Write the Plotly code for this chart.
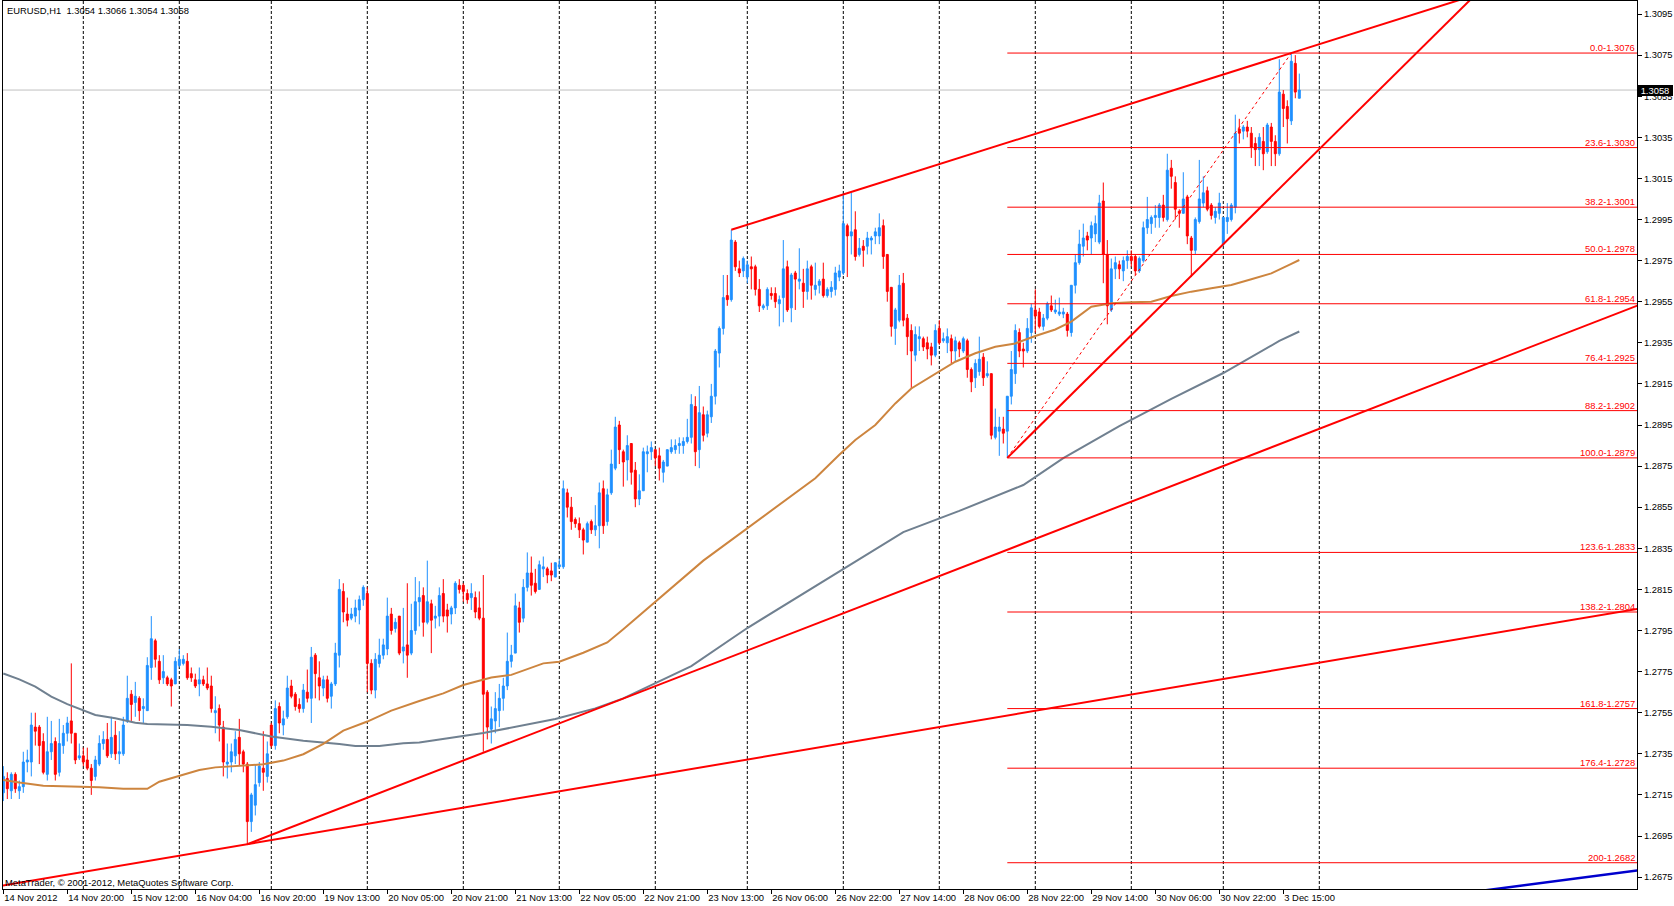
import plotly.graph_objects as go

# ---------------- data (prices in 1/10000 units) ----------------
bars = list(range(325))

opens = [
12716,12723,12717,12725,12717,12719,12731,12731,12748,12748,
12741,12725,12736,12741,12726,12739,12745,12751,12745,12733,
12734,12732,12728,12724,12730,12740,12742,12735,12744,12735,
12735,12751,12764,12760,12762,12757,12756,12777,12790,12780,
12772,12772,12771,12769,12778,12779,12780,12774,12771,12769,
12771,12769,12768,12755,12757,12748,12730,12731,12734,12743,
12736,12730,12702,12710,12721,12728,12724,12749,12739,12758,
12749,12753,12768,12764,12759,12757,12765,12762,12783,12772,
12767,12771,12763,12769,12783,12814,12803,12801,12802,12805,
12810,12813,12779,12766,12779,12783,12786,12803,12796,12802,
12785,12788,12784,12795,12809,12812,12799,12808,12801,12802,
12813,12805,12803,12806,12817,12817,12813,12811,12811,12806,
12801,12765,12747,12751,12756,12762,12768,12780,12784,12806,
12801,12816,12823,12818,12815,12825,12825,12824,12821,12826,
12826,12862,12855,12849,12847,12844,12838,12848,12844,12846,
12864,12848,12862,12874,12895,12882,12878,12886,12873,12859,
12863,12881,12882,12883,12880,12872,12875,12882,12883,12885,
12885,12887,12889,12904,12883,12900,12891,12899,12909,12930,
12942,12958,12956,12984,12971,12970,12967,12972,12972,12961,
12952,12953,12959,12959,12954,12957,12972,12952,12969,12965,
12964,12960,12972,12961,12963,12966,12958,12960,12961,12967,
12969,12992,12987,12990,12978,12982,12982,12985,12987,12987,
12992,12978,12962,12942,12946,12964,12947,12941,12929,12937,
12937,12935,12933,12929,12942,12936,12935,12937,12931,12935,
12931,12936,12922,12918,12921,12928,12919,12920,12889,12892,
12893,12892,12909,12920,12940,12932,12931,12940,12951,12950,
12943,12947,12953,12950,12949,12949,12949,12940,12963,12974,
12982,12987,12986,12988,12984,13004,12978,12951,12971,12973,
12970,12975,12977,12977,12970,12975,12991,12993,12996,12996,
13002,12995,13020,13013,12999,12998,13006,12986,12980,12994,
13003,13009,13002,12996,12998,12983,12994,12995,13001,13039,
13038,13040,13037,13032,13029,13033,13028,13040,13033,13027,
13056,13050,13043,13071,13054]

highs = [
12729,12726,12726,12726,12722,12736,12737,12755,12755,12749,
12745,12753,12751,12743,12752,12749,12753,12779,12745,12740,
12738,12738,12730,12734,12744,12746,12750,12753,12751,12746,
12753,12773,12766,12770,12763,12762,12782,12802,12791,12783,
12783,12773,12772,12782,12786,12783,12784,12777,12774,12777,
12773,12777,12773,12763,12759,12751,12740,12740,12746,12752,
12737,12731,12716,12730,12731,12746,12741,12750,12761,12760,
12756,12773,12771,12765,12762,12769,12776,12787,12784,12780,
12773,12773,12770,12789,12820,12818,12811,12806,12810,12812,
12817,12816,12781,12784,12791,12791,12811,12806,12801,12802,
12806,12818,12808,12821,12819,12816,12829,12810,12807,12816,
12820,12808,12807,12819,12820,12818,12815,12818,12814,12814,
12822,12766,12758,12765,12769,12772,12794,12788,12813,12809,
12820,12833,12831,12825,12829,12831,12826,12828,12828,12830,
12868,12864,12860,12850,12850,12845,12848,12849,12856,12867,
12868,12864,12883,12899,12897,12883,12890,12886,12877,12871,
12884,12885,12887,12883,12884,12878,12883,12888,12888,12889,
12889,12898,12910,12909,12914,12904,12902,12915,12932,12943,
12968,12968,12990,12985,12975,12977,12975,12977,12973,12966,
12954,12962,12962,12962,12958,12985,12975,12969,12970,12981,
12971,12975,12973,12974,12966,12974,12962,12965,12972,12973,
13007,12993,13008,12999,12986,12985,12989,12987,12991,12998,
12995,12978,12962,12952,12968,12969,12949,12944,12943,12943,
12938,12938,12935,12944,12946,12940,12942,12939,12938,12936,
12938,12937,12923,12927,12938,12930,12926,12920,12903,12899,
12899,12909,12931,12944,12942,12935,12947,12954,12961,12952,
12949,12955,12958,12956,12957,12952,12950,12963,12978,12990,
12993,12989,12994,12997,13007,13013,12985,12976,12977,12975,
12977,12980,12980,12978,12977,12994,13006,12997,13002,13003,
13007,13027,13024,13016,13000,13018,13007,12987,12996,13024,
13016,13011,13003,13001,13008,12996,13003,13003,13046,13044,
13041,13043,13040,13035,13037,13040,13042,13042,13036,13073,
13058,13053,13076,13075,13066]

lows = [
12712,12713,12713,12716,12713,12716,12726,12724,12739,12730,
12725,12722,12732,12722,12724,12735,12741,12740,12730,12732,
12729,12727,12715,12722,12729,12737,12733,12733,12732,12730,
12734,12750,12751,12753,12751,12750,12756,12771,12777,12769,
12769,12768,12758,12769,12777,12778,12771,12770,12767,12763,
12768,12766,12755,12745,12741,12724,12723,12726,12730,12729,
12726,12691,12697,12705,12719,12717,12721,12738,12737,12745,
12744,12752,12762,12756,12755,12755,12760,12750,12762,12761,
12763,12760,12757,12768,12777,12799,12797,12800,12799,12798,
12807,12765,12764,12762,12777,12781,12783,12793,12794,12783,
12779,12772,12783,12793,12797,12792,12798,12784,12796,12797,
12799,12794,12798,12803,12813,12809,12808,12805,12801,12800,
12736,12742,12740,12745,12748,12756,12766,12777,12784,12794,
12799,12814,12812,12813,12815,12821,12818,12819,12821,12825,
12825,12850,12844,12845,12840,12832,12838,12842,12841,12835,
12842,12846,12861,12873,12876,12865,12868,12866,12855,12856,
12863,12872,12878,12875,12868,12867,12875,12881,12881,12881,
12881,12886,12886,12875,12874,12887,12889,12896,12905,12923,
12939,12953,12955,12970,12967,12967,12964,12961,12958,12950,
12951,12951,12956,12952,12943,12945,12950,12945,12951,12961,
12952,12956,12956,12958,12959,12957,12957,12957,12958,12965,
12968,12967,12978,12975,12977,12972,12978,12978,12983,12983,
12971,12955,12938,12934,12945,12943,12929,12913,12926,12931,
12931,12927,12924,12928,12934,12935,12930,12925,12926,12928,
12930,12918,12911,12913,12919,12914,12918,12888,12888,12880,
12886,12879,12905,12915,12928,12923,12930,12935,12940,12942,
12941,12946,12950,12949,12948,12947,12938,12938,12959,12973,
12977,12980,12978,12984,12983,12964,12944,12950,12966,12966,
12965,12971,12972,12968,12969,12974,12988,12988,12991,12991,
12994,12994,13010,12995,12991,12998,12983,12967,12978,12993,
13001,12999,12995,12993,12995,12982,12988,12994,12998,13032,
13034,13035,13025,13021,13021,13019,13027,13021,13021,13026,
13040,13032,13041,13054,13054]

closes = [
12724,12718,12725,12718,12719,12731,12732,12749,12746,12739,
12726,12736,12740,12725,12740,12745,12750,12745,12732,12734,
12731,12728,12722,12732,12740,12742,12734,12743,12735,12736,
12749,12762,12759,12763,12756,12758,12778,12791,12781,12771,
12775,12769,12768,12780,12781,12781,12772,12772,12768,12771,
12769,12767,12757,12756,12749,12731,12731,12736,12742,12735,
12730,12702,12715,12720,12729,12726,12735,12739,12757,12750,
12752,12767,12763,12758,12757,12766,12762,12782,12774,12768,
12771,12762,12769,12784,12815,12804,12800,12803,12806,12810,
12816,12779,12766,12781,12783,12788,12802,12795,12799,12784,
12787,12783,12795,12809,12811,12799,12809,12800,12802,12812,
12802,12802,12806,12818,12815,12814,12810,12813,12804,12801,
12764,12748,12752,12757,12762,12768,12780,12783,12807,12799,
12816,12823,12817,12814,12827,12826,12822,12822,12828,12827,
12864,12855,12848,12847,12844,12839,12847,12844,12846,12862,
12846,12861,12876,12894,12883,12877,12885,12872,12859,12863,
12882,12882,12884,12879,12874,12877,12883,12884,12885,12886,
12887,12889,12905,12882,12901,12890,12900,12909,12931,12942,
12957,12956,12985,12972,12969,12976,12973,12971,12961,12953,
12953,12961,12958,12955,12956,12971,12951,12968,12966,12966,
12960,12971,12963,12963,12965,12958,12961,12962,12969,12970,
12993,12987,12989,12977,12981,12980,12986,12986,12989,12991,
12977,12960,12943,12951,12963,12946,12938,12931,12939,12938,
12933,12932,12929,12941,12935,12937,12938,12931,12936,12932,
12937,12922,12916,12925,12927,12918,12920,12890,12894,12894,
12891,12909,12922,12941,12931,12931,12942,12952,12948,12943,
12947,12954,12951,12951,12950,12950,12941,12963,12974,12983,
12986,12985,12992,12993,13003,12978,12953,12971,12974,12971,
12975,12977,12975,12970,12976,12991,12995,12996,12997,13002,
12996,13019,13016,13000,12998,13005,12987,12980,12995,13005,
13008,13000,12997,12999,13003,12996,12996,13002,13037,13037,
13040,13038,13030,13029,13035,13027,13041,13033,13027,13057,
13049,13044,13072,13057,13058]

# moving averages (bar index, price in 1/10000)
ma_fast_bars = [0, 4, 10, 16, 24, 30, 36, 39, 44, 49, 53, 59, 65, 70, 75, 80, 85, 91, 97,
                104, 110, 115, 122, 127, 135, 139, 145, 151, 155, 175, 196, 203, 209, 213,
                218, 223, 227, 233, 238, 243, 248, 253, 258, 263, 267, 272, 277, 282, 287,
                292, 297, 302, 307, 312, 317, 322, 324]
ma_fast_vals = [12722.3, 12721.0, 12719.5, 12719.3, 12718.7, 12718.0, 12718.0, 12721.4,
                12724.2, 12727.1, 12728.4, 12729.3, 12729.9, 12731.7, 12734.8, 12739.8,
                12746.3, 12750.7, 12756.0, 12760.7, 12764.4, 12768.5, 12772.1, 12773.4,
                12779.0, 12779.8, 12784.2, 12789.2, 12795.6, 12829.0, 12858.9, 12869.1,
                12880.5, 12887.7, 12895.0, 12905.5, 12912.8, 12920.1, 12925.8, 12929.9,
                12933.1, 12934.7, 12938.3, 12941.5, 12945.3, 12952.6, 12954.2, 12954.7,
                12955.0, 12957.8, 12959.9, 12961.5, 12963.1, 12965.9, 12968.8, 12973.4,
                12975.3]

ma_slow_bars = [0, 4, 8, 12, 16, 20, 23, 28, 33, 36, 41, 46, 52, 59, 67, 75, 84, 88, 94,
                100, 104, 120, 138, 148, 155, 172, 186, 199, 212, 225, 239, 249, 255, 265,
                279, 292, 305, 319, 324]
ma_slow_vals = [12774.1, 12771.2, 12767.7, 12762.8, 12759.2, 12756.0, 12753.9, 12752.3,
                12750.1, 12749.5, 12749.3, 12749.0, 12748.2, 12746.6, 12743.4, 12741.4,
                12739.8, 12738.8, 12738.8, 12740.1, 12740.5, 12745.1, 12751.9, 12757.1,
                12762.0, 12777.7, 12796.2, 12811.8, 12827.4, 12842.9, 12853.2, 12860.9,
                12865.8, 12878.9, 12894.5, 12907.7, 12920.3, 12935.9, 12940.5]

# trend lines: two anchor points each (bar, price)
trend_upper = ([182, 322], [1.2990, 1.3076])
trend_steep = ([251, 305], [1.2879, 1.2983])
trend_mid = ([61, 120], [1.2691, 1.27355])
trend_low = ([61, 325], [1.2691, 1.2778])
trend_blue = ([373, 408], [1.26692, 1.26781])

# Fibonacci retracement
fib_start_bar = 251
fib_end_bar = 322
fib_low = 1.2879
fib_high = 1.3076
fib_names = ["0.0", "23.6", "38.2", "50.0", "61.8", "76.4", "88.2", "100.0",
             "123.6", "138.2", "161.8", "176.4", "200"]
fib_levels = [1.3076, 1.3030, 1.3001, 1.2978, 1.2954, 1.2925, 1.2902, 1.2879,
              1.2833, 1.2804, 1.2757, 1.2728, 1.2682]

last_price = 1.3058
header_text = "EURUSD,H1\u00a0 1.3054 1.3066 1.3054 1.3058"
copyright_text = "MetaTrader, \u00a9 2001-2012, MetaQuotes Software Corp."

# day separators (bar index of each new trading day)
day_bars = [20, 44, 67, 91, 115, 139, 163, 186, 210, 234, 258, 282, 305, 329]

# time axis labels
time_tick_bars = [0, 16, 32, 48, 64, 80, 96, 112, 128, 144, 160, 176, 192, 208, 224,
                  240, 256, 272, 288, 304, 320]
time_tick_text = ["14 Nov 2012", "14 Nov 20:00", "15 Nov 12:00", "16 Nov 04:00",
                  "16 Nov 20:00", "19 Nov 13:00", "20 Nov 05:00", "20 Nov 21:00",
                  "21 Nov 13:00", "22 Nov 05:00", "22 Nov 21:00", "23 Nov 13:00",
                  "26 Nov 06:00", "26 Nov 22:00", "27 Nov 14:00", "28 Nov 06:00",
                  "28 Nov 22:00", "29 Nov 14:00", "30 Nov 06:00", "30 Nov 22:00",
                  "3 Dec 15:00"]

price_tick_text = ["1.2675", "1.2695", "1.2715", "1.2735", "1.2755", "1.2775", "1.2795",
                   "1.2815", "1.2835", "1.2855", "1.2875", "1.2895", "1.2915", "1.2935",
                   "1.2955", "1.2975", "1.2995", "1.3015", "1.3035", "1.3055", "1.3075",
                   "1.3095"]

# ---------------- figure ----------------
SCALE = 10000.0
X_MIN, X_MAX = -0.075, 408.425
Y_MIN, Y_MAX = 1.266921, 1.310133
FONT = "Liberation Sans, Arial, sans-serif"
FS = 9.4

o = [v / SCALE for v in opens]
h = [v / SCALE for v in highs]
l = [v / SCALE for v in lows]
c = [v / SCALE for v in closes]

fig = go.Figure()

fig.add_trace(go.Candlestick(
    x=bars, open=o, high=h, low=l, close=c,
    increasing=dict(line=dict(color="#1E90FF", width=1), fillcolor="#1E90FF"),
    decreasing=dict(line=dict(color="#FF0000", width=1), fillcolor="#FF0000"),
    whiskerwidth=0, hoverinfo="skip", showlegend=False))

fig.add_trace(go.Scatter(x=ma_slow_bars, y=[v / SCALE for v in ma_slow_vals], mode="lines",
                         line=dict(color="#708090", width=2), hoverinfo="skip",
                         showlegend=False))
fig.add_trace(go.Scatter(x=ma_fast_bars, y=[v / SCALE for v in ma_fast_vals], mode="lines",
                         line=dict(color="#CD853F", width=2), hoverinfo="skip",
                         showlegend=False))


def ray(anchor, x_from, x_to):
    (b1, b2), (p1, p2) = anchor
    k = (p2 - p1) / (b2 - b1)
    return [x_from, x_to], [p1 + k * (x_from - b1), p1 + k * (x_to - b1)]


for anchor, start, color, width in [
    (trend_upper, trend_upper[0][0], "#FF0000", 2),
    (trend_steep, trend_steep[0][0], "#FF0000", 2),
    (trend_mid, trend_mid[0][0], "#FF0000", 2),
    (trend_low, -5, "#FF0000", 2),
    (trend_blue, 340, "#0000CD", 2.5),
]:
    xs, ys = ray(anchor, start, X_MAX + 5)
    fig.add_trace(go.Scatter(x=xs, y=ys, mode="lines", line=dict(color=color, width=width),
                             hoverinfo="skip", showlegend=False))

# fibonacci diagonal
fig.add_trace(go.Scatter(x=[fib_start_bar, fib_end_bar], y=[fib_low, fib_high], mode="lines",
                         line=dict(color="#FF0000", width=1, dash="dot"), hoverinfo="skip",
                         showlegend=False))

shapes = []
for g in day_bars:
    shapes.append(dict(type="line", xref="x", yref="paper", x0=g, x1=g, y0=0, y1=1,
                       line=dict(color="black", width=1, dash="3px,2px"), layer="below"))
shapes.append(dict(type="line", xref="paper", yref="y", x0=0, x1=1, y0=last_price,
                   y1=last_price, line=dict(color="#C0C0C0", width=1), layer="below"))
for lv in fib_levels:
    shapes.append(dict(type="line", xref="x", yref="y", x0=fib_start_bar, x1=X_MAX,
                       y0=lv, y1=lv, line=dict(color="#FF0000", width=1), layer="above"))

annotations = []
for name, lv in zip(fib_names, fib_levels):
    annotations.append(dict(xref="paper", yref="y", x=1, y=lv, xanchor="right",
                            yanchor="bottom", xshift=-2, yshift=0, showarrow=False,
                            text=f"{name}-{lv:.4f}", borderpad=0, borderwidth=0,
                            font=dict(family=FONT, size=FS, color="#FF0000")))
annotations.append(dict(xref="paper", yref="paper", x=0, y=1, xanchor="left", yanchor="top",
                        xshift=4, yshift=-4, showarrow=False, text=header_text,
                        borderpad=0, borderwidth=0,
                        font=dict(family=FONT, size=FS, color="black")))
annotations.append(dict(xref="paper", yref="paper", x=0, y=0, xanchor="left",
                        yanchor="bottom", xshift=2, yshift=1, showarrow=False,
                        text=copyright_text, borderpad=0, borderwidth=0,
                        font=dict(family=FONT, size=FS, color="black")))
annotations.append(dict(xref="paper", yref="y", x=1, y=last_price, xanchor="left",
                        yanchor="middle", showarrow=False, text=f"{last_price:.4f}",
                        bgcolor="black", borderpad=1, borderwidth=0, width=34, height=9,
                        align="center", font=dict(family=FONT, size=FS, color="white")))

fig.update_layout(
    width=1674, height=906,
    margin=dict(l=3, r=37, t=1, b=17, pad=0),
    paper_bgcolor="white", plot_bgcolor="white",
    showlegend=False,
    shapes=shapes, annotations=annotations,
    font=dict(family=FONT, size=FS, color="black"),
    xaxis=dict(range=[X_MIN, X_MAX], showgrid=False, zeroline=False, showline=True,
               linecolor="black", linewidth=1, mirror=True, ticks="outside", ticklen=4,
               tickcolor="black", tickwidth=1, tickmode="array", tickvals=time_tick_bars,
               ticktext=time_tick_text, ticklabelposition="outside right",
               ticklabeloverflow="allow", tickangle=0,
               tickfont=dict(family=FONT, size=FS, color="black"),
               rangeslider=dict(visible=False), automargin=False, fixedrange=True),
    yaxis=dict(range=[Y_MIN, Y_MAX], side="right", showgrid=False, zeroline=False,
               showline=True, linecolor="black", linewidth=1, mirror=True,
               ticks="outside", ticklen=4, tickcolor="black", tickwidth=1,
               tickmode="array", tickvals=[float(t) for t in price_tick_text],
               ticktext=price_tick_text, ticklabeloverflow="allow",
               tickfont=dict(family=FONT, size=FS, color="black"),
               automargin=False, fixedrange=True),
)

fig.write_html(
    "out.html",
    config={"displayModeBar": False},
    post_script="document.body.style.margin='0';document.body.style.padding='0';"
                "document.body.style.overflow='hidden';",
)
